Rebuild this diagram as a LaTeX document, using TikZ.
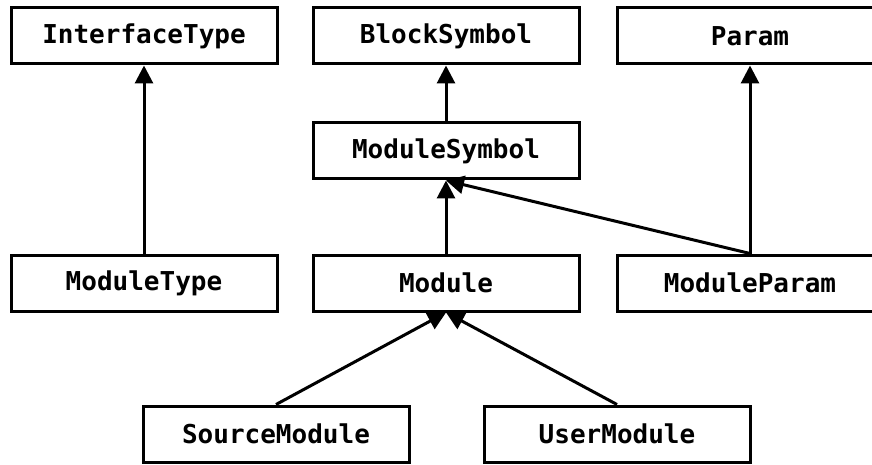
\documentclass[tikz,border=0pt]{standalone}
\usepackage{fontspec}
\setmonofont{DejaVu Sans Mono}
\usetikzlibrary{arrows.meta}

\begin{document}
\begin{tikzpicture}[x=1pt,y=1pt]
		\begin{scope}[scale=1]
		
		\tikzstyle{mybox}=[rectangle,
		draw=black,
		line width=3pt,
		minimum width=266pt,
		minimum height=56pt,
		inner sep=0pt,
		font=\fontsize{26}{30}\selectfont\ttfamily\bfseries
		]
		\tikzstyle{myarrow}=[line width=3pt,
		-{Triangle[width=18pt,length=18pt]}
		]
		
		\useasboundingbox (0,0) rectangle (872,464);
		\clip (0,0) rectangle (872,464);
		
		\coordinate (pit) at (144, 428);
		\coordinate (pbs) at (446, 428);
		\coordinate (ppa) at (750, 428);
		\coordinate (pms) at (446, 313);
		\coordinate (pmt) at (144, 181);
		\coordinate (pmo) at (446, 181);
		\coordinate (pmp) at (750, 181);
		\coordinate (psm) at (276, 30);
		\coordinate (pum) at (617, 30);
		
		\node[mybox] (it) at (pit) {InterfaceType};
		\node[mybox] (bs) at (pbs) {BlockSymbol};
		\node[mybox] (pa) at (ppa) {Param};
		\node[mybox] (ms) at (pms) {ModuleSymbol};
		\node[mybox] (mt) at (pmt) {ModuleType};
		\node[mybox] (mo) at (pmo) {Module};
		\node[mybox] (mp) at (pmp) {ModuleParam};
		\node[mybox] (sm) at (psm) {SourceModule};
		\node[mybox] (um) at (pum) {UserModule};
		
		\draw[myarrow] (mt.north) -- (it.south);
		\draw[myarrow] (ms.north) -- (bs.south);
		\draw[myarrow] (mo.north) -- (ms.south);
		\draw[myarrow] (mp.north) -- (ms.south);
		\draw[myarrow] (mp.north) -- (pa.south);
		\draw[myarrow] (sm.north) -- (mo.south);
		\draw[myarrow] (um.north) -- (mo.south);
		
		\end{scope}
\end{tikzpicture}
\end{document}
